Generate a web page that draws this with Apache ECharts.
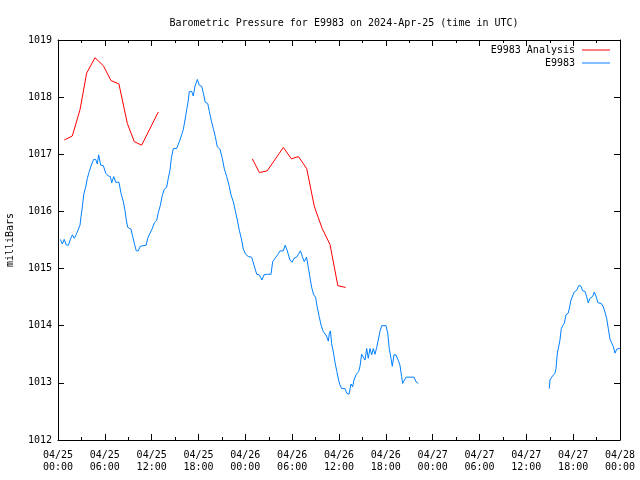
<!DOCTYPE html>
<html>
<head>
<meta charset="utf-8">
<script src="https://cdn.jsdelivr.net/npm/echarts@6/dist/echarts.min.js"></script>
<style>html,body{margin:0;padding:0;background:#fff}#c{width:640px;height:480px}</style>
</head>
<body>
<div id="c"></div>
<script>
// hours since 2024-04-25 00:00 UTC
var xTickLabels = ['04/25\n00:00','04/25\n06:00','04/25\n12:00','04/25\n18:00','04/26\n00:00','04/26\n06:00','04/26\n12:00','04/26\n18:00','04/27\n00:00','04/27\n06:00','04/27\n12:00','04/27\n18:00','04/28\n00:00'];

var analysisHours = [0.81,1.83,2.82,3.67,4.74,5.81,6.79,7.81,8.88,9.78,10.72,12.85,null,24.9,25.8,26.8,28.87,29.9,30.8,31.86,32.85,33.85,34.85,35.85,36.86];
var analysisValues = [1017.25,1017.32,1017.78,1018.42,1018.69,1018.55,1018.29,1018.23,1017.54,1017.22,1017.16,1017.74,null,1016.92,1016.68,1016.71,1017.12,1016.92,1016.96,1016.75,1016.08,1015.70,1015.42,1014.70,1014.67];

var obsHours = [0.3,0.55,0.8,1.07,1.33,1.58,1.84,2.09,2.35,2.6,2.82,2.95,3.12,3.29,3.55,3.76,4.01,4.32,4.57,4.83,5.04,5.21,5.47,5.81,6.11,6.45,6.71,6.88,7.14,7.39,7.81,8.07,8.37,8.58,8.75,8.93,9.35,9.57,9.78,10.03,10.29,10.54,11.31,11.49,11.79,12.08,12.34,12.64,12.85,13.1,13.36,13.62,13.92,14.13,14.35,14.52,14.77,15.2,15.54,15.84,16.05,16.27,16.49,16.7,16.82,17.13,17.33,17.55,17.85,18.1,18.41,18.62,18.87,19.18,19.39,19.6,19.9,20.15,20.41,20.75,21.05,21.3,21.61,21.91,22.16,22.46,22.71,22.97,23.23,23.53,23.74,24.05,24.38,24.81,25.11,25.46,25.79,26.13,26.39,26.73,27.29,27.5,27.8,28.14,28.44,28.86,29.1,29.38,29.72,29.98,30.23,30.58,30.83,31.06,31.3,31.55,31.84,32.07,32.3,32.5,32.75,33.0,33.2,33.46,33.72,33.98,34.2,34.4,34.63,34.77,34.9,35.05,35.3,35.5,35.72,35.95,36.1,36.34,36.77,36.98,37.28,37.54,37.75,37.92,38.18,38.52,38.69,38.9,39.1,39.33,39.55,39.75,39.97,40.19,40.39,40.61,40.83,41.03,41.25,41.47,42.02,42.24,42.44,42.66,42.83,43.04,43.3,43.6,43.81,44.02,44.15,44.37,44.58,45.61,45.86,46.16,null,62.94,63.03,63.25,63.45,63.67,63.8,63.97,64.14,64.31,64.48,64.66,64.86,65.08,65.37,65.55,65.72,65.93,66.14,66.45,66.7,66.96,67.22,67.51,67.73,67.93,68.15,68.5,68.7,68.92,69.18,69.6,69.86,70.07,70.29,70.5,70.71,70.93,71.15,71.36,71.58,71.87,72.0];
var obsValues = [1015.51,1015.43,1015.51,1015.41,1015.41,1015.51,1015.59,1015.53,1015.60,1015.62,1015.76,1015.91,1016.08,1016.29,1016.43,1016.58,1016.70,1016.83,1016.91,1016.91,1016.83,1016.99,1016.81,1016.80,1016.67,1016.62,1016.61,1016.50,1016.61,1016.51,1016.51,1016.32,1016.17,1016.02,1015.85,1015.72,1015.69,1015.56,1015.44,1015.31,1015.31,1015.39,1015.41,1015.53,1015.62,1015.70,1015.80,1015.84,1015.98,1016.10,1016.28,1016.39,1016.42,1016.58,1016.72,1016.93,1017.10,1017.10,1017.22,1017.34,1017.43,1017.60,1017.78,1017.95,1018.10,1018.10,1018.02,1018.19,1018.31,1018.21,1018.19,1018.07,1017.91,1017.89,1017.75,1017.61,1017.45,1017.31,1017.13,1017.09,1016.93,1016.75,1016.61,1016.46,1016.29,1016.17,1016.02,1015.85,1015.67,1015.50,1015.34,1015.25,1015.21,1015.20,1015.06,1014.90,1014.89,1014.80,1014.89,1014.90,1014.90,1015.12,1015.18,1015.24,1015.31,1015.31,1015.41,1015.31,1015.15,1015.11,1015.18,1015.20,1015.26,1015.31,1015.21,1015.12,1015.20,1015.02,1014.83,1014.67,1014.54,1014.50,1014.33,1014.16,1014.00,1013.90,1013.88,1013.82,1013.73,1013.87,1013.91,1013.69,1013.52,1013.35,1013.20,1013.05,1012.97,1012.90,1012.90,1012.82,1012.80,1012.98,1012.93,1013.05,1013.14,1013.20,1013.29,1013.50,1013.50,1013.40,1013.60,1013.43,1013.60,1013.49,1013.60,1013.50,1013.62,1013.75,1013.90,1014.00,1014.00,1013.87,1013.60,1013.43,1013.29,1013.49,1013.49,1013.39,1013.31,1013.11,1012.99,1012.99,1013.10,1013.10,1013.02,1012.99,null,1012.90,1013.05,1013.10,1013.11,1013.17,1013.25,1013.52,1013.63,1013.75,1013.95,1014.00,1014.04,1014.19,1014.22,1014.33,1014.45,1014.52,1014.59,1014.62,1014.70,1014.70,1014.61,1014.60,1014.51,1014.40,1014.48,1014.51,1014.59,1014.52,1014.40,1014.39,1014.33,1014.24,1014.13,1013.95,1013.77,1013.70,1013.63,1013.52,1013.59,1013.60,1013.60];

function pairs(xs, ys) {
  return xs.map(function (x, i) { return (x === null || ys[i] === null) ? ['-', '-'] : [x, ys[i]]; });
}

var FONT = 'DejaVu Sans Mono';
var chart = echarts.init(document.getElementById('c'), null, {renderer: 'canvas'});

var xBase = {
  type: 'value', min: 0, max: 72, interval: 6,
  axisLine: {show: true, onZero: false, lineStyle: {color: '#000', width: 1}},
  axisTick: {show: true, inside: true, length: 6, lineStyle: {color: '#000'}},
  minorTick: {show: true, splitNumber: 2, length: 3, lineStyle: {color: '#000'}},
  splitLine: {show: false}
};
var yBase = {
  type: 'value', min: 1012, max: 1019, interval: 1,
  axisLine: {show: true, onZero: false, lineStyle: {color: '#000', width: 1}},
  axisTick: {show: true, inside: true, length: 6, lineStyle: {color: '#000'}},
  splitLine: {show: false}
};

chart.setOption({
  animation: false,
  backgroundColor: '#fff',
  textStyle: {fontFamily: FONT},
  title: {
    text: 'Barometric Pressure for E9983 on 2024-Apr-25 (time in UTC)',
    left: 339, top: 13, textAlign: 'center',
    textStyle: {fontFamily: FONT, fontSize: 10, fontWeight: 'normal', color: '#000'}
  },
  legend: {
    orient: 'vertical', right: 25, top: 40, align: 'right',
    itemWidth: 28, itemHeight: 1, itemGap: 3, icon: 'rect',
    textStyle: {fontFamily: FONT, fontSize: 10, color: '#000', padding: [0, 2, 0, 0]},
    data: ['E9983 Analysis', 'E9983']
  },
  grid: {left: 58, right: 20, top: 40, bottom: 40, containLabel: false, outerBoundsMode: 'none'},
  xAxis: [
    Object.assign({}, xBase, {
      position: 'bottom',
      axisLabel: {
        show: true, margin: 9, color: '#000', fontFamily: FONT, fontSize: 10, lineHeight: 12,
        formatter: function (v) { return xTickLabels[Math.round(v / 6)]; }
      }
    }),
    Object.assign({}, xBase, {position: 'top', axisLabel: {show: false}})
  ],
  yAxis: [
    Object.assign({}, yBase, {
      position: 'left',
      name: 'milliBars', nameLocation: 'middle', nameGap: 43, nameRotate: 90,
      nameTextStyle: {fontFamily: FONT, fontSize: 10, color: '#000'},
      axisLabel: {show: true, margin: 6, color: '#000', fontFamily: FONT, fontSize: 10,
        formatter: function (v) { return String(v); }}
    }),
    Object.assign({}, yBase, {position: 'right', axisLabel: {show: false}})
  ],
  series: [
    {
      name: 'E9983 Analysis', type: 'line', xAxisIndex: 0, yAxisIndex: 0,
      data: pairs(analysisHours, analysisValues),
      showSymbol: false, symbol: 'none', connectNulls: false,
      lineStyle: {color: '#ff0000', width: 1}, itemStyle: {color: '#ff0000'}
    },
    {
      name: 'E9983', type: 'line', xAxisIndex: 0, yAxisIndex: 0,
      data: pairs(obsHours, obsValues),
      showSymbol: false, symbol: 'none', connectNulls: false,
      lineStyle: {color: '#0080ff', width: 1}, itemStyle: {color: '#0080ff'}
    }
  ]
});
</script>
</body>
</html>
